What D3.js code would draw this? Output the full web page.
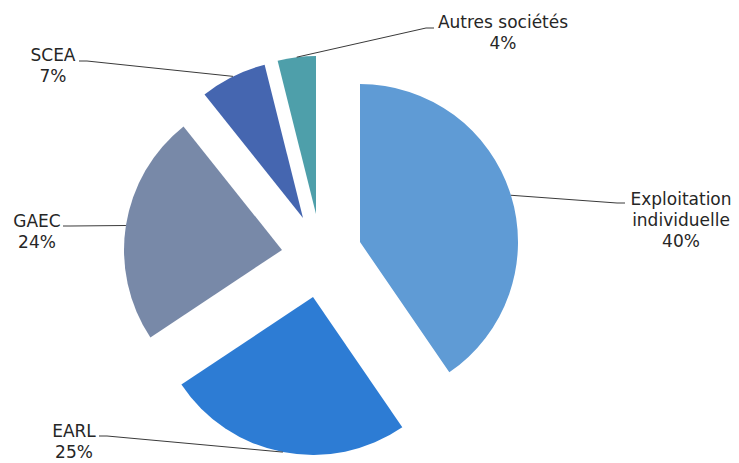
<!DOCTYPE html>
<html>
<head>
<meta charset="utf-8">
<script src="https://cdn.jsdelivr.net/npm/d3@7"></script>
<style>
  html, body { margin: 0; padding: 0; background: #fff; }
  svg { display: block; }
</style>
</head>
<body>
<svg id="chart" width="739" height="463"></svg>
<script>
// ---- data ----
const categories = ["Exploitation individuelle", "EARL", "GAEC", "SCEA", "Autres sociétés"];
const values = [40.4, 25.2, 23.6, 6.8, 3.9];
const labelLines = [["Exploitation", "individuelle"], ["EARL"], ["GAEC"], ["SCEA"], ["Autres sociétés"]];
const colors = ["#5f9bd5", "#2d7cd4", "#7889a8", "#4566b0", "#4e9faa"];

// ---- layout / style ----
const W = 739, H = 463;
const center = [320, 240];
const radius = 158;
// exploded displacement of each slice
const explodeShift = [[40, 2], [-7, 57], [-38, 10], [-17, -22], [-4, -26]];
// label block: [centre x, first baseline y], leader anchor [x, y]
const labelPos = [[681, 205], [74, 437], [37, 227], [53, 61], [503, 28]];
const labelAnchor = [[625, 203], [99, 436], [63, 226], [79, 61], [434, 28]];
const lineH = 21;

const svg = d3.select("#chart");

const pie = d3.pie().sort(null).value(d => d.value).startAngle(0).endAngle(2 * Math.PI);
const data = categories.map((c, i) => ({ cat: c, value: values[i], i }));
const arcs = pie(data);

const arc = d3.arc().innerRadius(0).outerRadius(radius);
const edgeArc = d3.arc().innerRadius(radius).outerRadius(radius);

const total = d3.sum(values);
const pct = d3.format(".0%");

const g = svg.append("g").attr("transform", `translate(${center[0]},${center[1]})`);

// leader lines
arcs.forEach((a, i) => {
  const [sx, sy] = explodeShift[i];
  const c = edgeArc.centroid(a);
  const p = [center[0] + sx + c[0], center[1] + sy + c[1]];
  const anc = labelAnchor[i];
  const dir = p[0] > anc[0] ? 1 : -1;
  const elbow = [anc[0] + dir * 8, anc[1]];
  svg.append("path")
    .attr("d", d3.line()([anc, elbow, p]))
    .attr("fill", "none")
    .attr("stroke", "#3a3a3a")
    .attr("stroke-width", 1);
});

// slices
g.selectAll("path.slice")
  .data(arcs)
  .join("path")
  .attr("class", "slice")
  .attr("transform", (d, i) => `translate(${explodeShift[i][0]},${explodeShift[i][1]})`)
  .attr("d", arc)
  .attr("fill", (d, i) => colors[i]);

// labels
arcs.forEach((a, i) => {
  const lines = labelLines[i].concat([pct(values[i] / total)]);
  const t = svg.append("text")
    .attr("x", labelPos[i][0])
    .attr("y", labelPos[i][1])
    .attr("text-anchor", "middle")
    .attr("font-family", "DejaVu Sans, Verdana, sans-serif")
    .attr("font-size", 17)
    .attr("fill", "#262626");
  lines.forEach((ln, k) => {
    t.append("tspan")
      .attr("x", labelPos[i][0])
      .attr("dy", k === 0 ? 0 : lineH)
      .text(ln);
  });
});
</script>
</body>
</html>
